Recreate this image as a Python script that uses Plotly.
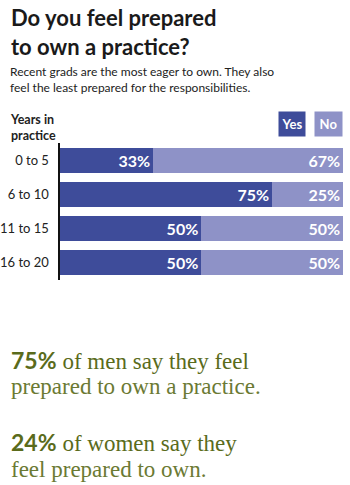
import plotly.graph_objects as go

categories = ["0 to 5", "6 to 10", "11 to 15", "16 to 20"]
yes_values = [33, 75, 50, 50]
no_values = [67, 25, 50, 50]
series_names = ["Yes", "No"]
yes_color = "#3e4c9a"
no_color = "#8e92c7"

W, H = 350, 485

def py(p):
    return 1 - p / H

def px(p):
    return p / W

fig = go.Figure()
for vals, name, col in [(yes_values, series_names[0], yes_color), (no_values, series_names[1], no_color)]:
    fig.add_trace(go.Bar(
        y=categories, x=vals, orientation="h", name=name,
        marker=dict(color=col, line=dict(width=0)),
        texttemplate="%{x}%", textposition="inside", insidetextanchor="end",
        textfont=dict(family="Lato", size=16, color="white", weight="bold"),
        hoverinfo="skip",
    ))

annotations = []
# title
annotations.append(dict(text="Do you feel prepared<br>to own a practice?", x=px(6), y=py(2),
                        xref="paper", yref="paper", align="left",
                        xanchor="left", yanchor="top", showarrow=False,
                        font=dict(family="Lato", size=22, color="#1a1a1a", weight="bold")))
# subtitle
annotations.append(dict(text="Recent grads are the most eager to own. They also<br>feel the least prepared for the responsibilities.",
                        x=px(5), y=py(62), xref="paper", yref="paper", align="left",
                        xanchor="left", yanchor="top", showarrow=False,
                        font=dict(family="Lato", size=12, color="#222222")))
# axis title
annotations.append(dict(text="Years in<br>practice", x=px(5), y=py(110), xref="paper", yref="paper",
                        align="left", xanchor="left", yanchor="top", showarrow=False,
                        font=dict(family="Lato", size=12.5, color="#222222", weight="bold")))
# legend boxes
annotations.append(dict(text=series_names[0], x=px(291), y=py(124), xref="paper", yref="paper",
                        xanchor="center", yanchor="middle", showarrow=False,
                        width=26, height=24, bgcolor=yes_color, borderpad=0,
                        font=dict(family="Lato", size=13, color="white", weight="bold")))
annotations.append(dict(text=series_names[1], x=px(328.5), y=py(124), xref="paper", yref="paper",
                        xanchor="center", yanchor="middle", showarrow=False,
                        width=27, height=24, bgcolor=no_color, borderpad=0,
                        font=dict(family="Lato", size=13, color="white", weight="bold")))
# bottom facts
green_dark = "#5a6b1b"
green = "#6b7a33"
annotations.append(dict(text="<b>75%</b> <span style='font-family:Liberation Serif'>of men say they feel</span>",
                        x=px(6), y=py(360), xref="paper", yref="paper",
                        xanchor="left", yanchor="middle", showarrow=False,
                        font=dict(family="Lato", size=23, color=green_dark)))
annotations.append(dict(text="prepared to own a practice.", x=px(6), y=py(386), xref="paper", yref="paper",
                        xanchor="left", yanchor="middle", showarrow=False,
                        font=dict(family="Liberation Serif", size=23, color=green)))
annotations.append(dict(text="<b>24%</b> <span style='font-family:Liberation Serif'>of women say they</span>",
                        x=px(6), y=py(442), xref="paper", yref="paper",
                        xanchor="left", yanchor="middle", showarrow=False,
                        font=dict(family="Lato", size=23, color=green_dark)))
annotations.append(dict(text="feel prepared to own.", x=px(6), y=py(469), xref="paper", yref="paper",
                        xanchor="left", yanchor="middle", showarrow=False,
                        font=dict(family="Liberation Serif", size=23, color=green)))

fig.update_layout(
    width=W, height=H, margin=dict(l=0, r=0, t=0, b=0),
    barmode="stack", bargap=0.27,
    paper_bgcolor="white", plot_bgcolor="white",
    showlegend=False,
    xaxis=dict(domain=[px(57), px(343)], range=[0, 100], visible=False, fixedrange=True),
    yaxis=dict(domain=[py(280), py(143)], autorange="reversed", showline=True,
               linecolor="#111111", linewidth=2, showgrid=False, zeroline=False,
               ticks="", ticklabelstandoff=6,
               tickfont=dict(family="Lato", size=13, color="#222222"), fixedrange=True),
    annotations=annotations,
    uniformtext=dict(mode="show", minsize=10),
)

fig.write_html("out.html")
